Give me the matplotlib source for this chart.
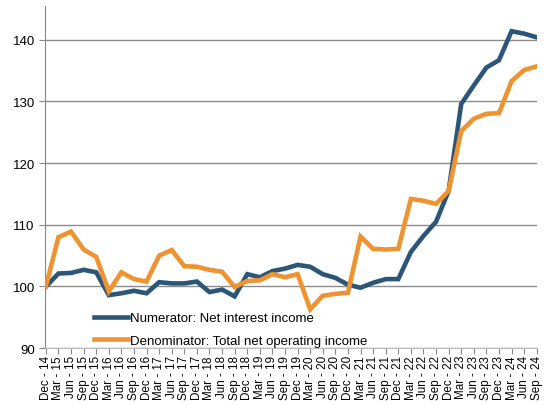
import matplotlib.pyplot as plt

quarters = ["Dec - 14", "Mar - 15", "Jun - 15", "Sep - 15", "Dec - 15",
            "Mar - 16", "Jun - 16", "Sep - 16", "Dec - 16",
            "Mar - 17", "Jun - 17", "Sep - 17", "Dec - 17",
            "Mar - 18", "Jun - 18", "Sep - 18", "Dec - 18",
            "Mar - 19", "Jun - 19", "Sep - 19", "Dec - 19",
            "Mar - 20", "Jun - 20", "Sep - 20", "Dec - 20",
            "Mar - 21", "Jun - 21", "Sep - 21", "Dec - 21",
            "Mar - 22", "Jun - 22", "Sep - 22", "Dec - 22",
            "Mar - 23", "Jun - 23", "Sep - 23", "Dec - 23",
            "Mar - 24", "Jun - 24", "Sep - 24"]

numerator = [100.0, 102.1, 102.2, 102.7, 102.3, 98.6, 98.9, 99.3, 98.9,
             100.7, 100.5, 100.5, 100.8, 99.1, 99.5, 98.4, 102.0,
             101.5, 102.5, 102.9, 103.5, 103.2, 102.0, 101.4, 100.3,
             99.8, 100.6, 101.2, 101.2, 105.6, 108.2, 110.5, 115.5,
             129.6, 132.6, 135.5, 136.7, 141.4, 141.0, 140.4]

denominator = [100.0, 108.0, 108.9, 106.0, 104.8, 99.2, 102.3, 101.2, 100.8,
               105.0, 105.9, 103.3, 103.2, 102.7, 102.4, 99.9, 100.9,
               101.0, 102.0, 101.5, 102.0, 96.3, 98.5, 98.8, 99.0,
               108.1, 106.1, 106.0, 106.1, 114.2, 113.9, 113.4, 115.5,
               125.2, 127.2, 128.0, 128.1, 133.3, 135.1, 135.7]

plt.rcParams['font.family'] = ['Liberation Sans', 'DejaVu Sans']

fig = plt.figure(figsize=(5.45, 4.06), dpi=100)
ax = fig.add_axes([0.083, 0.14, 0.903, 0.843])

x = range(len(quarters))
ax.plot(x, numerator, color="#2b5677", lw=3.3, label="Numerator: Net interest income",
        solid_joinstyle="miter", zorder=3)
ax.plot(x, denominator, color="#ef9230", lw=3.3, label="Denominator: Total net operating income",
        solid_joinstyle="miter", zorder=3)

ax.set_ylim(90, 145.5)
ax.set_yticks([90, 100, 110, 120, 130, 140])
ax.set_xlim(-0.05, len(quarters) - 0.95)
ax.set_xticks(list(x))
ax.set_xticklabels(quarters, rotation=90, fontsize=8.4)
ax.tick_params(axis="y", labelsize=9.5, length=4, color="#888888")
ax.tick_params(axis="x", length=4, color="#888888", pad=1)

ax.grid(axis="y", color="#8c8c8c", lw=1)
ax.set_axisbelow(True)
for s in ["top", "right"]:
    ax.spines[s].set_visible(False)
ax.spines["left"].set_color("#888888")
ax.spines["bottom"].set_color("#bbbbbb")

ax.legend(loc="lower left", bbox_to_anchor=(0.075, -0.03), frameon=False,
          fontsize=9.5, handlelength=2.6, handletextpad=0.1, labelspacing=0.75)

fig.savefig("out.png", dpi=100)
